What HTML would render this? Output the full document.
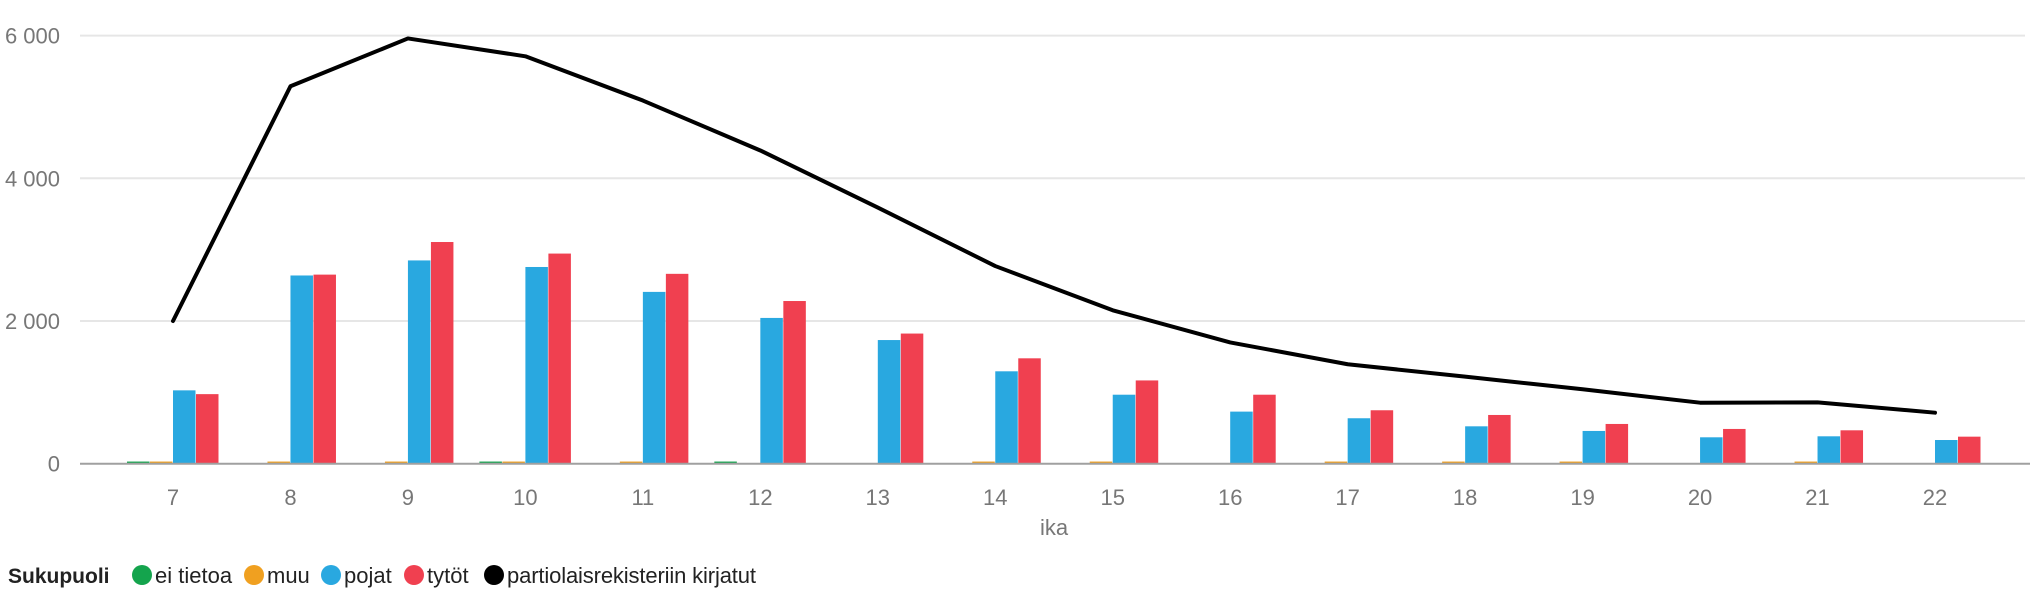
<!DOCTYPE html>
<html><head><meta charset="utf-8"><style>
html,body{margin:0;padding:0;background:#fff;width:2030px;height:600px;overflow:hidden;font-family:"Liberation Sans",sans-serif}
</style></head><body>
<svg id="chart" width="2030" height="600" xmlns="http://www.w3.org/2000/svg">
<g id="grid"></g>
<g id="bars"></g>
<g id="line"></g>
<g id="axes"></g>
<g id="legend"></g>
</svg>
<script>
const categories = ["7","8","9","10","11","12","13","14","15","16","17","18","19","20","21","22"];
const eiTietoa = [30,0,0,30,0,30,0,0,0,0,0,0,0,0,0,0];
const muu = [30,30,30,30,30,0,0,30,30,0,30,30,30,0,30,0];
const pojat = [1028,2638,2849,2757,2408,2043,1733,1295,967,730,637,524,459,370,384,332];
const tytot = [975,2650,3107,2945,2661,2280,1824,1477,1167,967,749,683,557,487,468,379];
const rekisteri = [2000,5290,5960,5710,5090,4390,3590,2770,2150,1700,1394,1220,1043,855,860,715];
const yTicks = [0,2000,4000,6000];
const yTickLabels = ["0","2 000","4 000","6 000"];

const NS="http://www.w3.org/2000/svg";
const X0=173, STEP=(1935-173)/15, Y0=463.7, YK=(463.7-35.6)/6000, BW=23;
const xPos=i=>X0+i*STEP;
const yPos=v=>Y0-v*YK;
function mk(tag,attrs,parent){const e=document.createElementNS(NS,tag);for(const k in attrs)e.setAttribute(k,attrs[k]);parent.appendChild(e);return e;}
const grid=document.getElementById('grid'),bars=document.getElementById('bars'),line=document.getElementById('line'),axes=document.getElementById('axes'),legend=document.getElementById('legend');

yTicks.forEach((t,i)=>{
  if(t>0){const g=mk('line',{x1:80,x2:2025,y1:yPos(t),y2:yPos(t),stroke:'#e6e6e6','stroke-width':2},grid);
  
  }
  const tx=mk('text',{x:60,y:yPos(t)+8,'text-anchor':'end','font-size':22,fill:'#777'},axes);
  tx.textContent=yTickLabels[i];
  
  
});
const series=[[eiTietoa,'#14a44d',-2],[muu,'#f0a020',-1],[pojat,'#29a8e0',0],[tytot,'#f04050',1]];
const names=['ei-tietoa','muu','pojat','tytot'];
series.forEach((s,si)=>{
  s[0].forEach((v,i)=>{
    if(v<=0)return;
    const h=v*YK;
    const r=mk('rect',{x:xPos(i)+s[2]*BW,y:Y0-h,width:BW-0.5,height:h,fill:s[1]},bars);
    
    
  });
});
const ax=mk('line',{x1:80,x2:2030,y1:Y0,y2:Y0,stroke:'#a0a0a0','stroke-width':2},axes);


categories.forEach((c,i)=>{
  const t=mk('text',{x:xPos(i),y:505,'text-anchor':'middle','font-size':22,fill:'#777'},axes);
  t.textContent=c;
  
  
});
const xt=mk('text',{x:1054,y:535,'text-anchor':'middle','font-size':22,fill:'#777'},axes);
xt.textContent='ika';


const pts=rekisteri.map((v,i)=>xPos(i)+','+yPos(v)).join(' ');
const pl=mk('polyline',{points:pts,fill:'none',stroke:'#000','stroke-width':4,'stroke-linejoin':'round','stroke-linecap':'round'},line);



const lt=mk('text',{x:8,y:583,'font-size':21,'font-weight':'bold',fill:'#222'},legend);
lt.textContent='Sukupuoli';


const items=[['#14a44d',142,'ei tietoa',155],['#f0a020',254,'muu',267],['#29a8e0',331,'pojat',344],['#f04050',414,'tytöt',427],['#000',494,'partiolaisrekisteriin kirjatut',507]];
items.forEach(it=>{
  const g=mk('g',{},legend);
  
  
  mk('circle',{cx:it[1],cy:575,r:10,fill:it[0]},g);
  const a={x:it[3],y:583,'font-size':22,fill:'#222'};
  if(it[2].length>20)a.textLength=249;
  const t=mk('text',a,g);
  t.textContent=it[2];
});
</script>
</body></html>
